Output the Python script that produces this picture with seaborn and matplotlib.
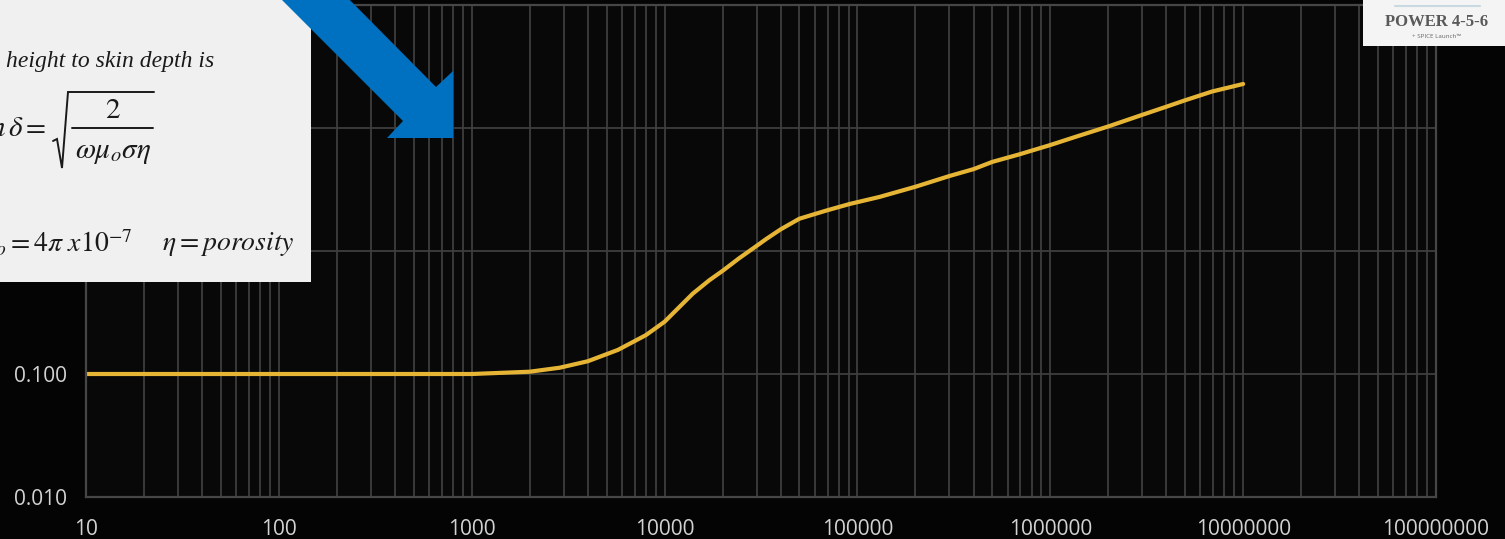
import matplotlib
matplotlib.use("Agg")
import matplotlib.pyplot as plt
import seaborn as sns
import pandas as pd
from matplotlib.patches import Polygon, Rectangle
from matplotlib.ticker import LogLocator, FixedLocator, FixedFormatter, NullFormatter

# ---- data ----
freq = [10, 20, 50, 100, 200, 500, 1000, 2000, 2860, 4000, 5730, 8000,
        10000, 14000, 17100, 20000, 24400, 30000, 33600, 40000, 50000, 68800,
        91000, 130000, 200000, 300000, 400000, 500000, 690000, 1000000,
        1360000, 2000000, 3000000, 4000000, 5000000, 6900000, 10000000]
ratio = [0.1, 0.1, 0.1, 0.1, 0.1, 0.1, 0.1, 0.1044, 0.1125, 0.127, 0.157, 0.207,
         0.266, 0.45, 0.58, 0.69, 0.875, 1.1, 1.25, 1.5, 1.83, 2.13,
         2.41, 2.75, 3.33, 4.07, 4.63, 5.3, 6.1, 7.27,
         8.5, 10.3, 12.8, 14.9, 16.8, 19.8, 22.8]
x_ticks = [10, 100, 1000, 10000, 100000, 1000000, 10000000, 100000000]
x_labels = ["10", "100", "1000", "10000", "100000", "1000000", "10000000", "100000000"]
y_ticks = [0.01, 0.1, 1, 10, 100]
y_labels = ["0.010", "0.100", "1.000", "10.000", "100.000"]

df = pd.DataFrame({"freq": freq, "ratio": ratio})

sns.set_style("dark")
plt.rcParams["font.family"] = ["Open Sans", "DejaVu Sans"]
plt.rcParams["mathtext.fontset"] = "stix"

W, H = 1505, 539
fig = plt.figure(figsize=(W / 100, H / 100), dpi=100, facecolor="#040404")
ax = fig.add_axes([86 / W, (H - 497) / H, (1436 - 86) / W, (497 - 5) / H])
ax.set_facecolor("#080808")

sns.lineplot(data=df, x="freq", y="ratio", ax=ax, color="#E6B535",
             linewidth=3, estimator=None, sort=True)

ax.set_xscale("log")
ax.set_yscale("log")
ax.set_xlim(10, 1e8)
ax.set_ylim(0.01, 100)

ax.xaxis.set_major_locator(FixedLocator(x_ticks))
ax.xaxis.set_major_formatter(FixedFormatter(x_labels))
ax.xaxis.set_minor_locator(LogLocator(base=10, subs=range(2, 10), numticks=100))
ax.xaxis.set_minor_formatter(NullFormatter())
ax.yaxis.set_major_locator(FixedLocator(y_ticks))
ax.yaxis.set_major_formatter(FixedFormatter(y_labels))
ax.yaxis.set_minor_locator(FixedLocator([]))

gc = "#3e3e3e"
ax.grid(True, which="major", axis="both", color=gc, linewidth=1.3)
ax.grid(True, which="minor", axis="x", color=gc, linewidth=1.3)
ax.set_axisbelow(True)
for s in ax.spines.values():
    s.set_visible(True)
    s.set_color("#464646")
    s.set_linewidth(1.6)

ax.tick_params(axis="both", which="both", length=0, colors="#d2d2d2", labelsize=15)
ax.tick_params(axis="y", pad=14)
ax.tick_params(axis="x", pad=15.5)
ax.set_xlabel("")
ax.set_ylabel("")

# ---- overlay (equation box, arrow, logo) in pixel coordinates ----
ov = fig.add_axes([0, 0, 1, 1], zorder=10)
ov.set_xlim(0, W)
ov.set_ylim(H, 0)
ov.axis("off")
ov.patch.set_alpha(0)
ink = "#1a1a1a"

ov.add_patch(Rectangle((0, 0), 311, 282, facecolor="#f0f0f0", edgecolor="none"))
ov.text(6, 62, "height to skin depth is", family="Liberation Serif", style="italic",
        fontsize=17, color=ink, va="center", ha="left")

# skin depth equation
ov.text(46, 128, r"$n\,\delta =$", fontsize=21, color=ink, va="center", ha="right")
ov.plot([53, 57, 62, 68, 154], [141, 139, 168, 92, 92], color=ink, linewidth=1.4,
        solid_joinstyle="miter")
ov.plot([72, 153], [128, 128], color=ink, linewidth=1.4)
ov.text(113, 110, r"$2$", fontsize=21, color=ink, va="center", ha="center")
ov.text(113, 151, r"$\omega\mu_o\sigma\eta$", fontsize=21, color=ink, va="center", ha="center")

# constants line
ov.text(-20, 244, r"$\mu_o = 4\pi\ x10^{-7}$", fontsize=20, color=ink, va="center", ha="left")
ov.text(162, 244, r"$\eta = porosity$", fontsize=20, color=ink, va="center", ha="left")

arrow = [(262, -20), (330, -20), (436, 87), (453, 71), (453, 138), (387, 138), (403, 121)]
ov.add_patch(Polygon(arrow, closed=True, facecolor="#0070C0", edgecolor="none"))

ov.add_patch(Rectangle((1363, 0), 142, 46, facecolor="#f4f4f4", edgecolor="none"))
ov.plot([1395, 1480], [6, 6], color="#c9d9e2", linewidth=1.5, solid_capstyle="round")
ov.text(1437, 22, "POWER 4-5-6", family="Liberation Serif", fontweight="bold",
        fontsize=12, color="#595959", ha="center", va="center")
ov.text(1437, 37, "+ SPICE Launch\u2122", fontsize=4.5, color="#666666",
        ha="center", va="center")

fig.savefig("out.png", dpi=100, facecolor=fig.get_facecolor())
